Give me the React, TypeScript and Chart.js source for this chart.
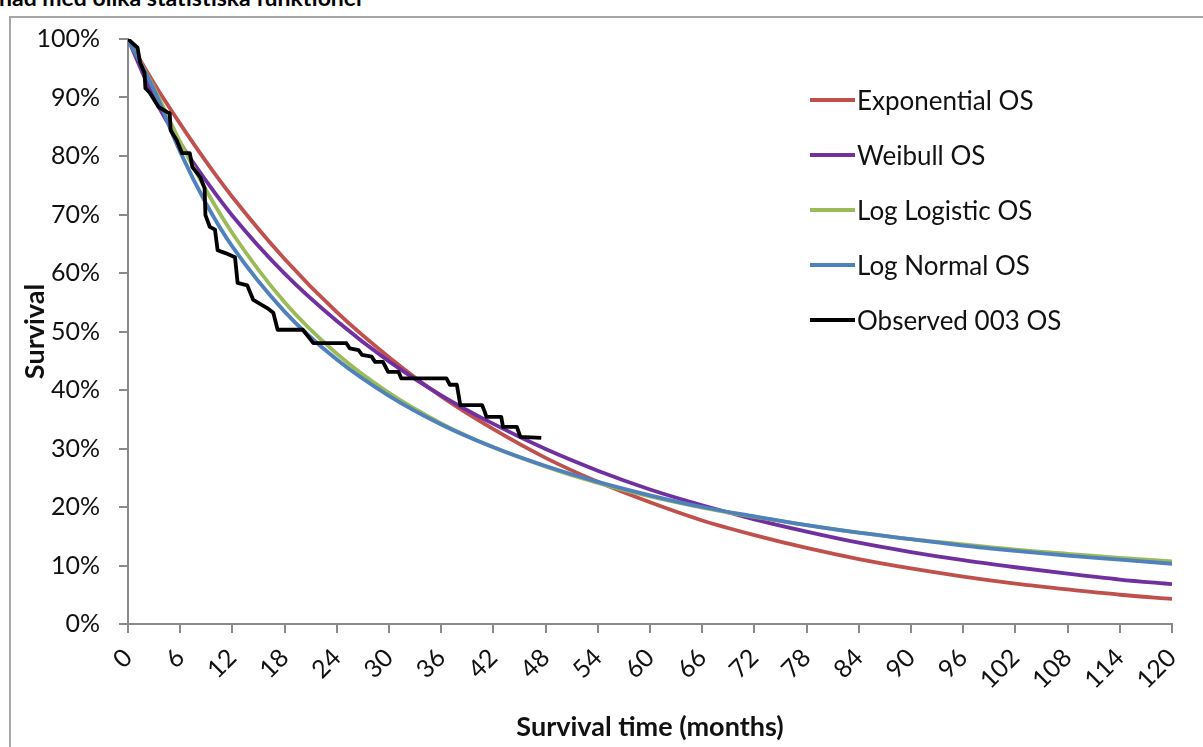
import React, { useEffect, useRef } from "react";
import { Chart, registerables } from "chart.js";

Chart.register(...registerables);

// Fitted survival curves (months, % surviving)
const fitMonths = [0, 3, 6, 9, 12, 18, 24, 30, 36, 42, 48, 54, 60, 66, 72, 78, 84, 90, 96, 102, 108, 114, 120];
const exponentialOS = [100, 92.4, 85.5, 79.0, 73.0, 62.4, 53.3, 45.6, 38.9, 33.3, 28.4, 24.3, 20.8, 17.7, 15.2, 13.0, 11.1, 9.5, 8.1, 6.9, 5.9, 5.0, 4.3];
const weibullOS = [100, 89.9, 82.2, 75.7, 69.8, 59.9, 51.8, 44.9, 39.1, 34.2, 29.9, 26.2, 23.0, 20.3, 17.9, 15.8, 13.9, 12.3, 10.9, 9.7, 8.6, 7.6, 6.8];
const logLogisticOS = [100, 91.6, 82.4, 74.1, 66.8, 55.0, 46.2, 39.5, 34.3, 30.2, 26.9, 24.1, 21.8, 19.9, 18.3, 16.9, 15.6, 14.5, 13.6, 12.7, 12.0, 11.3, 10.7];
const logNormalOS = [100, 91.3, 80.7, 71.8, 64.5, 53.4, 45.2, 39.0, 34.1, 30.2, 27.0, 24.3, 22.0, 20.0, 18.4, 16.9, 15.6, 14.5, 13.4, 12.5, 11.7, 11.0, 10.3];

// Observed Kaplan-Meier curve
const observedMonths = [0, 1.1, 1.4, 1.9, 2.0, 2.5, 3.5, 4.5, 4.8, 4.9, 5.6, 6.2, 7.1, 7.4, 8.3, 8.8, 8.9, 9.4, 10.0, 10.3, 11.2, 12.3, 12.6, 13.7, 14.4, 16.0, 16.7, 17.2, 20.1, 21.3, 25.1, 25.5, 26.5, 26.9, 28.0, 28.4, 29.3, 29.9, 31.1, 31.4, 36.6, 37.0, 37.8, 38.2, 40.7, 41.0, 41.2, 42.9, 43.1, 44.7, 45.1, 47.5];
const observedOS = [100, 98.5, 95.9, 94.2, 91.6, 90.8, 88.4, 87.5, 87.3, 84.4, 82.7, 80.5, 80.5, 78.1, 76.4, 74.5, 69.9, 67.9, 67.4, 63.9, 63.4, 62.7, 58.3, 57.9, 55.4, 54.0, 53.2, 50.3, 50.3, 48.0, 48.0, 47.1, 46.8, 46.0, 45.7, 44.8, 44.8, 43.1, 43.1, 42.0, 42.0, 40.9, 40.9, 37.4, 37.4, 36.3, 35.4, 35.4, 33.7, 33.7, 32.0, 31.8];

const seriesNames = ["Exponential OS", "Weibull OS", "Log Logistic OS", "Log Normal OS", "Observed 003 OS"];
const seriesColors = ["#C0504D", "#7030A0", "#9BBB59", "#4F81BD", "#000000"];

const xTitle = "Survival time (months)";
const yTitle = "Survival";
const topText = "nad med olika statistiska funktioner";

const FONT = "Lato, 'Open Sans', sans-serif";
const AXIS = "#8a8a8a";
const TEXT = "#111111";

function pts(xs: number[], ys: number[]) {
  return xs.map((x, i) => ({ x, y: ys[i] }));
}

export default function App() {
  const ref = useRef<HTMLCanvasElement | null>(null);

  useEffect(() => {
    if (!ref.current) return;
    const fits = [exponentialOS, weibullOS, logLogisticOS, logNormalOS];
    const datasets: any[] = fits.map((vals, i) => ({
      label: seriesNames[i],
      data: pts(fitMonths, vals),
      borderColor: seriesColors[i],
      backgroundColor: seriesColors[i],
      borderWidth: 3.8,
      pointRadius: 0,
      cubicInterpolationMode: "monotone",
      fill: false,
      order: 4 - i,
    }));
    datasets.push({
      label: seriesNames[4],
      data: pts(observedMonths, observedOS),
      borderColor: seriesColors[4],
      backgroundColor: seriesColors[4],
      borderWidth: 3.8,
      pointRadius: 0,
      tension: 0,
      borderJoinStyle: "round",
      fill: false,
      order: 0,
    });

    const chart = new Chart(ref.current, {
      type: "line",
      data: { datasets },
      options: {
        animation: false,
        responsive: false,
        layout: { padding: { top: 21, right: 31, left: 0, bottom: 0 } },
        plugins: { legend: { display: false }, tooltip: { enabled: false } },
        scales: {
          x: {
            type: "linear",
            min: 0,
            max: 120,
            afterFit: (s: any) => {
              s.height = 123;
              s.paddingLeft = 0;
              s.paddingRight = 0;
            },
            ticks: {
              stepSize: 6,
              autoSkip: false,
              maxRotation: 45,
              minRotation: 45,
              padding: 10,
              color: TEXT,
              font: { family: FONT, size: 25 },
            },
            grid: { drawOnChartArea: false, drawTicks: true, tickLength: 9, color: AXIS, lineWidth: 2 },
            border: { color: AXIS, width: 2 },
            title: {
              display: true,
              text: xTitle,
              color: TEXT,
              font: { family: FONT, size: 27, weight: "bold" },
              padding: { top: 0, bottom: 4 },
            },
          },
          y: {
            min: 0,
            max: 100,
            afterFit: (s: any) => {
              s.width = 117;
              s.paddingTop = 0;
              s.paddingBottom = 0;
            },
            ticks: {
              stepSize: 10,
              padding: 19,
              color: TEXT,
              font: { family: FONT, size: 25 },
              callback: (v: any) => `${v}%`,
            },
            grid: { drawOnChartArea: false, drawTicks: true, tickLength: 9, color: AXIS, lineWidth: 2 },
            border: { color: AXIS, width: 2 },
            title: {
              display: true,
              text: yTitle,
              color: TEXT,
              font: { family: FONT, size: 27, weight: "bold" },
              padding: { top: 8, bottom: 0 },
            },
          },
        },
      },
    });
    return () => chart.destroy();
  }, []);

  return (
    <div
      style={{
        position: "absolute",
        left: 0,
        top: 0,
        width: 1203,
        height: 747,
        overflow: "hidden",
        background: "#ffffff",
        fontFamily: FONT,
      }}
    >
      <div
        style={{
          position: "absolute",
          left: -1,
          top: -13,
          fontSize: 23,
          lineHeight: "20px",
          fontWeight: "bold",
          color: "#000",
          whiteSpace: "nowrap",
        }}
      >
        {topText}
      </div>
      <div
        style={{
          position: "absolute",
          left: 9,
          top: 16,
          width: 1210,
          height: 760,
          borderLeft: "2px solid #a6a6a6",
          borderTop: "2px solid #a6a6a6",
        }}
      />
      <canvas
        ref={ref}
        width={1192}
        height={729}
        style={{ position: "absolute", left: 11, top: 18, width: 1192, height: 729 }}
      />
      {seriesNames.map((name, i) => (
        <div
          key={name}
          style={{
            position: "absolute",
            left: 810,
            top: 100 + i * 55 - 15,
            height: 30,
            display: "flex",
            alignItems: "center",
            whiteSpace: "nowrap",
          }}
        >
          <div style={{ width: 45, height: 4, background: seriesColors[i], marginRight: 2 }} />
          <span style={{ fontSize: 26, color: TEXT, lineHeight: "30px" }}>{name}</span>
        </div>
      ))}
    </div>
  );
}
